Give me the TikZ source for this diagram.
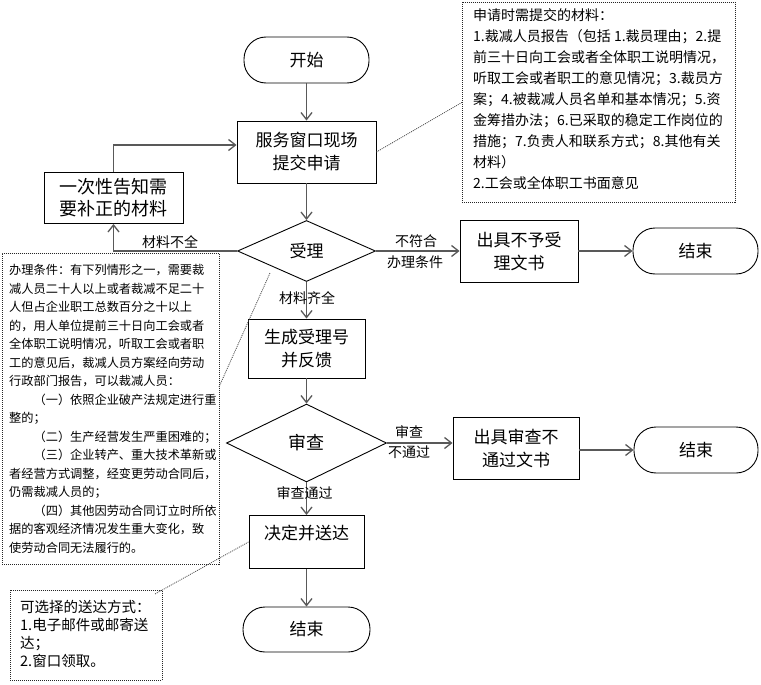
\documentclass[tikz,border=0pt]{standalone}
\usepackage{fontspec}
\setmainfont{Noto Sans CJK SC}
\usetikzlibrary{shapes.geometric,arrows.meta}
\begin{document}
\begin{tikzpicture}[x=1pt,y=-1pt,
  nodebase/.style={font=\fontsize{17}{23}\selectfont, align=center, inner sep=0pt, line width=0.9pt, draw=black},
  term/.style={nodebase, rectangle, rounded corners=22pt},
  proc/.style={nodebase, rectangle},
  dec/.style={nodebase, diamond},
  conn/.style={draw=black!65, line width=1.3pt, -{Straight Barb[length=7pt,width=11pt]}},
  lbl/.style={font=\fontsize{14}{18}\selectfont, inner sep=0pt},
  note/.style={draw=black!85, line width=0.8pt, dash pattern=on 1pt off 1pt},
  link/.style={draw=black!70, line width=0.8pt, dash pattern=on 1pt off 1pt}]
\useasboundingbox (0,0) rectangle (761,685);

% main column
\node[term, minimum width=125, minimum height=46] (start) at (306.5,60) {开始};
\node[proc, minimum width=139, minimum height=62] (apply) at (306.5,152) {服务窗口现场\\提交申请};
\node[proc, minimum width=139, minimum height=51, font=\fontsize{18}{22}\selectfont] (notify) at (113.5,198) {一次性告知需\\要补正的材料};
\node[dec, minimum width=138, minimum height=61] (accept) at (306.5,251) {受理};
\node[proc, minimum width=118, minimum height=62] (reject1) at (519,251) {出具不予受\\理文书};
\node[term, minimum width=125, minimum height=46] (end1) at (695.5,251) {结束};
\node[proc, minimum width=117, minimum height=59] (gen) at (306.5,348.5) {生成受理号\\并反馈};
\node[dec, minimum width=160, minimum height=78, font=\fontsize{18}{23}\selectfont] (review) at (306.5,443) {审查};
\node[proc, minimum width=126, minimum height=62] (reject2) at (516,448) {出具审查不\\通过文书};
\node[term, minimum width=124, minimum height=46] (end2) at (696,450) {结束};
\node[proc, minimum width=115, anchor=north, inner ysep=4pt, text height=20pt, text depth=25pt] (decide) at (306.5,515) {决定并送达};
\node[term, minimum width=127, minimum height=45] (end3) at (306.5,629.5) {结束};

% connectors
\coordinate (fb) at (175,145);
\draw[conn] (start) -- (apply);
\draw[conn] (apply) -- (accept);
\draw[conn] (accept.west) -- (notify.south |- accept.west) -- (notify.south);
\draw[conn] (notify.north) -- (notify.north |- fb) -- (apply.west |- fb);
\draw[conn] (accept.east) -- (reject1.west);
\draw[conn] (reject1.east) -- (end1.west);
\draw[conn] (accept.south) -- (gen.north);
\draw[conn] (gen.south) -- (review.north);
\draw[conn] (review.east) -- (review.east -| reject2.west);
\draw[conn] (reject2.east |- end2.west) -- (end2.west);
\draw[conn] (review.south) -- (decide.north);
\draw[conn] (decide.south) -- (end3.north);

% connector labels
\node[lbl] (l1) at (170,242) {材料不全};
\node[lbl] (l2) at (416,241) {不符合};
\node[lbl] (l3) at (415,262) {办理条件};
\node[lbl] (l4) at (307,298) {材料齐全};
\node[lbl] (l5) at (409,432) {审查};
\node[lbl] (l6) at (409,452) {不通过};
\node[lbl] (l7) at (304.5,493) {审查通过};

% annotation: top right
\node[note, minimum width=273, minimum height=200, anchor=north west] (rbox) at (462,2) {};
\node[anchor=west, align=left, inner sep=0pt, font=\fontsize{14}{21}\selectfont] (rtext) at (473,99) {申请时需提交的材料：\\
1.裁减人员报告（包括 1.裁员理由；2.提\\
前三十日向工会或者全体职工说明情况，\\
听取工会或者职工的意见情况；3.裁员方\\
案；4.被裁减人员名单和基本情况；5.资\\
金筹措办法；6.已采取的稳定工作岗位的\\
措施；7.负责人和联系方式；8.其他有关\\
材料）\\
2.工会或全体职工书面意见};

% annotation: left
\node[note, minimum width=217, minimum height=311, anchor=north west] (lbox) at (2,253) {};
\node[anchor=west, align=left, inner sep=0pt, font=\fontsize{12.2}{18.5}\selectfont] (ltext) at (9,409) {办理条件：有下列情形之一，需要裁\\
减人员二十人以上或者裁减不足二十\\
人但占企业职工总数百分之十以上\\
的，用人单位提前三十日向工会或者\\
全体职工说明情况，听取工会或者职\\
工的意见后，裁减人员方案经向劳动\\
行政部门报告，可以裁减人员：\\
\hspace*{2em}（一）依照企业破产法规定进行重\\
整的；\\
\hspace*{2em}（二）生产经营发生严重困难的；\\
\hspace*{2em}（三）企业转产、重大技术革新或\\
者经营方式调整，经变更劳动合同后，\\
仍需裁减人员的；\\
\hspace*{2em}（四）其他因劳动合同订立时所依\\
据的客观经济情况发生重大变化，致\\
使劳动合同无法履行的。};

% annotation: bottom left
\node[note, minimum width=152, minimum height=90, anchor=north west] (bbox) at (10,590) {};
\node[anchor=west, align=left, inner sep=0pt, font=\fontsize{14.5}{18}\selectfont] (btext) at (20,634) {可选择的送达方式：\\
1.电子邮件或邮寄送\\
达；\\
2.窗口领取。};

% dotted links
\coordinate (d1) at (270,273);
\coordinate (d2) at (219,387);
\coordinate (d3) at (155,594);
\draw[link] (apply.east) -- (rbox.west);
\draw[link] (d1) -- (d2);
\draw[link] (decide.west) -- (d3);
\end{tikzpicture}
\end{document}
